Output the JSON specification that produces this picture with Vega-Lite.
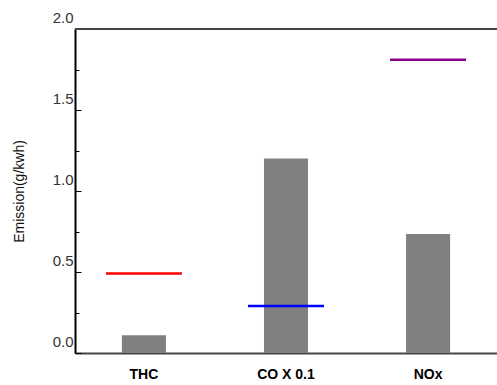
{
  "$schema": "https://vega.github.io/schema/vega-lite/v6.json",
  "width": 422,
  "height": 324,
  "autosize": {"type": "none"},
  "padding": {"left": 75, "top": 29, "right": 0, "bottom": 32},
  "config": {"view": {"stroke": null}, "font": "Liberation Sans"},
  "data": {
    "values": [
      {"pollutant": "THC", "value": 0.11, "limit": 0.49},
      {"pollutant": "CO X 0.1", "value": 1.2, "limit": 0.29},
      {"pollutant": "NOx", "value": 0.735, "limit": 1.81}
    ]
  },
  "resolve": {"axis": {"y": "independent"}},
  "layer": [
    {
      "mark": {"type": "bar", "color": "#808080"},
      "encoding": {
        "x": {
          "field": "pollutant",
          "type": "nominal",
          "sort": null,
          "scale": {"paddingInner": 0.69, "paddingOuter": 0.33},
          "axis": {
            "title": null,
            "labelAngle": 0,
            "ticks": false,
            "labelPadding": 14,
            "labelFontSize": 14,
            "labelFontWeight": "bold",
            "labelColor": "#000000",
            "domainColor": "#444444",
            "domainWidth": 2
          }
        },
        "y": {
          "field": "value",
          "type": "quantitative",
          "scale": {"domain": [0, 2], "nice": false},
          "axis": {
            "orient": "left",
            "title": "Emission(g/kwh)",
            "titleFontWeight": "normal",
            "titleFontSize": 14,
            "titleColor": "#111111",
            "titleX": -56,
            "titleY": 162,
            "titleAlign": "center",
            "titleBaseline": "middle",
            "titleAngle": -90,
            "values": [0, 0.5, 1, 1.5, 2],
            "format": ".1f",
            "grid": false,
            "tickSize": -6,
            "tickColor": "#000000",
            "tickWidth": 1,
            "labelPadding": 8,
            "labelOffset": -12,
            "labelFontSize": 15,
            "labelColor": "#333333",
            "labelFlush": false,
            "labelOverlap": false,
            "domainColor": "#000000",
            "domainWidth": 2
          }
        }
      }
    },
    {
      "mark": {"type": "tick", "size": 76, "thickness": 2.5, "orient": "horizontal", "opacity": 1},
      "encoding": {
        "x": {"field": "pollutant", "type": "nominal", "sort": null},
        "y": {"field": "limit", "type": "quantitative", "axis": null},
        "color": {
          "field": "pollutant",
          "type": "nominal",
          "sort": null,
          "scale": {"domain": ["THC", "CO X 0.1", "NOx"], "range": ["#ff0000", "#0000ff", "#8b008b"]},
          "legend": null
        }
      }
    },
    {
      "mark": {"type": "rule", "color": "#444444", "strokeWidth": 2},
      "encoding": {
        "y": {
          "datum": 2,
          "type": "quantitative",
          "axis": {
            "orient": "left",
            "title": null,
            "values": [0.25, 0.75, 1.25, 1.75],
            "labels": false,
            "domain": false,
            "grid": false,
            "tickSize": -4,
            "tickColor": "#000000",
            "tickWidth": 1
          }
        }
      }
    }
  ]
}
